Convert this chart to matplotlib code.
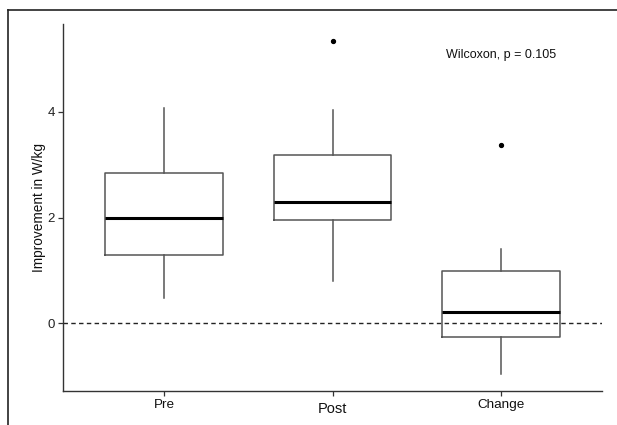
import matplotlib
matplotlib.use("Agg")
from matplotlib import pyplot as plt
from matplotlib.lines import Line2D

plt.rcParams['font.family'] = ['Liberation Sans', 'DejaVu Sans']

# Box summaries (W/kg)
groups = ["Pre", "Post", "Change"]
whisker_low = [0.48, 0.80, -0.97]
box_low = [1.285, 1.95, -0.26]
medians = [2.00, 2.30, 0.21]
box_high = [2.835, 3.19, 0.98]
whisker_high = [4.08, 4.04, 1.40]
outliers = [[], [5.35], [3.37]]

annotation = "Wilcoxon, p = 0.105"

fig = plt.figure(figsize=(6.17, 4.25), dpi=100)
ax = fig.add_axes([0.1021, 0.08, 0.8736, 0.8635])

# Build stats for bxp
stats = []
for i, name in enumerate(groups):
    stats.append({
        "label": name,
        "whislo": whisker_low[i],
        "q1": box_low[i],
        "med": medians[i],
        "q3": box_high[i],
        "whishi": whisker_high[i],
        "fliers": outliers[i],
    })

grey = "#555555"
ax.bxp(stats, positions=[1, 2, 3], widths=0.7, showcaps=False,
       boxprops=dict(color=grey, linewidth=1.1),
       whiskerprops=dict(color=grey, linewidth=1.1),
       medianprops=dict(color="black", linewidth=2.2),
       flierprops=dict(marker="o", markersize=2.8, markerfacecolor="black",
                       markeredgecolor="black"))

# reference line at zero
ax.axhline(0, color="#222222", linestyle=(0, (3.2, 2.4)), linewidth=1.0, zorder=0)

ax.text(3, 5.08, annotation, ha="center", va="center", fontsize=9, color="#111111")

ax.set_xlim(0.4, 3.6)
ax.set_ylim(-1.286, 5.666)
ax.set_yticks([0, 2, 4])
ax.set_yticklabels(["0", "2", "4"], fontsize=9.5, color="#222222")
ax.set_xticks([1, 2, 3])
ax.set_xticklabels(groups, fontsize=9.7, color="#111111")
ax.set_ylabel("Improvement in W/kg", fontsize=9.8, color="#111111", labelpad=1)

# the Post label sits a touch lower and larger in the original
post_label = ax.get_xticklabels()[1]
post_label.set_fontsize(10.5)
post_label.set_y(-0.008)

for side in ["top", "right"]:
    ax.spines[side].set_visible(False)
for side in ["left", "bottom"]:
    ax.spines[side].set_color("#333333")
    ax.spines[side].set_linewidth(1.0)
ax.tick_params(axis="both", length=3.5, width=0.9, color="#333333", pad=2.5)

# frame lines around the picture (top and left)
fig.add_artist(Line2D([8 / 617, 1.0], [1 - 10 / 425, 1 - 10 / 425],
                      transform=fig.transFigure, color="#222222", linewidth=1.2))
fig.add_artist(Line2D([8 / 617, 8 / 617], [0.0, 1 - 10 / 425],
                      transform=fig.transFigure, color="#222222", linewidth=1.2))

plt.savefig("out.png", dpi=100)
